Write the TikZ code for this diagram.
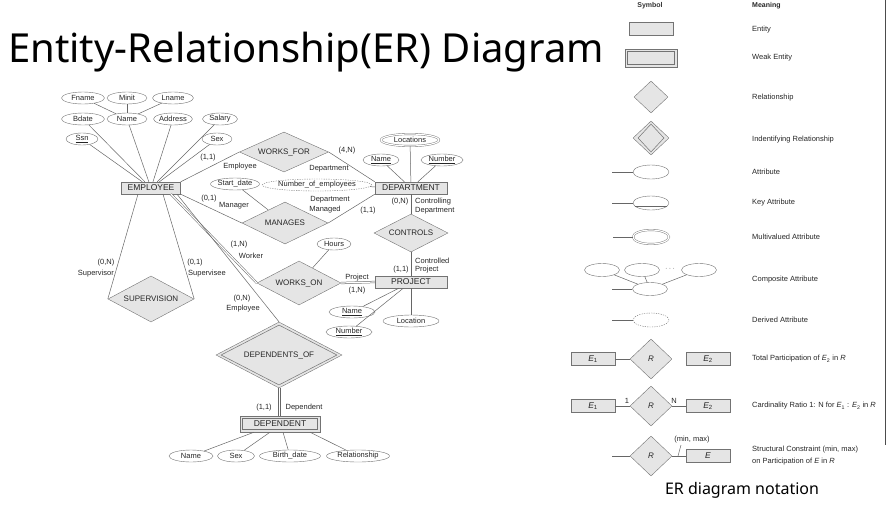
\documentclass[tikz,border=0pt]{standalone}
\usepackage{fontspec}
\setmainfont{Liberation Sans}
\newfontfamily\titlefont{Noto Sans}
\usepackage{tikz}
\usetikzlibrary{shapes.geometric}
\usetikzlibrary{positioning}
\newcommand{\ersym}[2]{{\itshape #1}\textsubscript{#2}}
\tikzstyle{er_line}=[draw=black!60, line width=0.5pt]
\tikzstyle{total}=[er_line, double=white, double distance=1.2pt]
\tikzstyle{er_label}=[inner sep=0pt, text=black!85, font=\fontsize{7.5}{8}\selectfont]
\tikzstyle{entity}=[rectangle, draw=black!55, fill=black!10, inner sep=0pt, minimum height=12, text=black!85, font=\fontsize{8.5}{9}\selectfont]
\tikzstyle{weak_entity}=[entity, inner_box]
\tikzstyle{inner_box}=[
    {path picture={
        \draw[black!55, line width=0.5pt]
        ([shift={(2.5pt,2.5pt)}]path picture bounding box.south west) rectangle
        ([shift={(-2.5pt,-2.5pt)}]path picture bounding box.north east);
      }
    }
]
\tikzstyle{relation}=[diamond, aspect=2, draw=black!55, fill=black!10, inner sep=0pt, text=black!85, font=\fontsize{8}{9}\selectfont]
\tikzstyle{ident_relation}=[relation, inner_diamond]
\tikzstyle{inner_diamond}=[
    {path picture={
        \draw[black!55, line width=0.5pt]
        ([yshift=-3pt]path picture bounding box.north) --
        ([xshift=-5pt]path picture bounding box.east) --
        ([yshift=3pt]path picture bounding box.south) --
        ([xshift=5pt]path picture bounding box.west) -- cycle;
      }
    }
]
\tikzstyle{attr}=[ellipse, draw=black!55, fill=white, inner sep=0pt, minimum height=12, text=black!85, font=\fontsize{7.5}{8}\selectfont]
\tikzstyle{multi_attr}=[attr, double=white, double distance=1.2pt]
\tikzstyle{derived_attr}=[attr, dashed, dash pattern=on 1.2pt off 1.2pt]
\tikzstyle{legend_text}=[anchor=west, inner sep=0pt, text=black!85, font=\fontsize{7.5}{9}\selectfont]
\begin{document}
\begin{tikzpicture}[x=1pt, y=-1pt]
\useasboundingbox (0,0) rectangle (888,506);
\node[anchor=base west, inner sep=0pt, font=\titlefont\fontsize{40}{40}\selectfont] (title) at (8,62) {Entity-Relationship(ER) Diagram};

% employee and its attributes
\node[entity, minimum width=59] (emp) at (151,188) {EMPLOYEE};
\node[attr, minimum width=43] (fname) at (83,98) {Fname};
\node[attr, minimum width=40] (minit) at (127,98) {Minit};
\node[attr, minimum width=41] (lname) at (173,98) {Lname};
\node[attr, minimum width=43] (bdate) at (83,119) {Bdate};
\node[attr, minimum width=40] (ename) at (127,119) {Name};
\node[attr, minimum width=38] (address) at (173,119) {Address};
\node[attr, minimum width=35] (salary) at (220,119) {Salary};
\node[attr, minimum width=32] (ssn) at (82,139) {\underline{Ssn}};
\node[attr, minimum width=30] (esex) at (217,139) {Sex};
\draw[er_line] (fname) -- (ename);
\draw[er_line] (minit) -- (ename);
\draw[er_line] (lname) -- (ename);
\draw[er_line] (emp) -- (bdate);
\draw[er_line] (emp) -- (ename);
\draw[er_line] (emp) -- (address);
\draw[er_line] (emp) -- (salary);
\draw[er_line] (emp) -- (ssn);
\draw[er_line] (emp) -- (esex);

% department
\node[entity, minimum width=72] (dept) at (411,188) {DEPARTMENT};
\node[multi_attr, minimum width=58] (locations) at (410,140) {Locations};
\node[attr, minimum width=36] (dname) at (381,160) {\underline{Name}};
\node[attr, minimum width=42] (dnumber) at (442,160) {\underline{Number}};
\node[derived_attr, minimum width=100] (numemp) at (317,185) {Number\_of\_employees};
\draw[er_line] (dept) -- (locations);
\draw[er_line] (dept) -- (dname);
\draw[er_line] (dept) -- (dnumber);
\draw[er_line] (numemp) -- (dept);

% works_for and manages
\node[relation, minimum width=89, minimum height=40] (works_for) at (284,152) {WORKS\_FOR};
\draw[er_line] (emp.north east) -- (works_for.west);
\draw[er_line] (works_for.east) -- (dept.north west);
\node[er_label] (wf_min) at (208,158) {(1,1)};
\node[er_label] (wf_emp) at (240,167) {Employee};
\node[er_label] (wf_max) at (347,151) {(4,N)};
\node[er_label] (wf_dept) at (329,169) {Department};
\node[relation, minimum width=86, minimum height=42] (manages) at (285,223) {MANAGES};
\node[attr, minimum width=44] (start_date) at (235,184) {Start\_date};
\draw[er_line] (start_date) -- (manages);
\draw[er_line] (emp.south east) -- (manages.west);
\draw[er_line] (manages.east) -- (dept.south west);
\node[er_label] (mg_min) at (209,199) {(0,1)};
\node[er_label] (mg_emp) at (234,206) {Manager};
\node[er_label] (mg_dept) at (330,200) {Department};
\node[er_label] (mg_mgd) at (325,210) {Managed};
\node[er_label] (mg_max) at (368,211) {(1,1)};

% controls and project
\node[relation, minimum width=74, minimum height=38] (controls) at (411,233) {CONTROLS};
\node[entity, minimum width=72] (project) at (411,282) {PROJECT};
\draw[er_line] (dept) -- (controls);
\draw[er_line] (controls) -- (project);
\node[er_label] (ct_min) at (400,202) {(0,N)};
\node[er_label, anchor=west] (ct_dept_a) at (415,202) {Controlling};
\node[er_label, anchor=west] (ct_dept_b) at (415,211) {Department};
\node[er_label, anchor=west] (ct_proj_a) at (415,261) {Controlled};
\node[er_label, anchor=west] (ct_proj_b) at (415,270) {Project};
\node[er_label] (ct_max) at (401,270) {(1,1)};
\node[attr, minimum width=46] (pname) at (352,312) {\underline{Name}};
\node[attr, minimum width=46] (pnumber) at (349,332) {\underline{Number}};
\node[attr, minimum width=56] (plocation) at (411,321) {Location};
\draw[er_line] (project) -- (pname);
\draw[er_line] (project) -- (pnumber);
\draw[er_line] (project) -- (plocation);

% works_on
\node[relation, minimum width=84, minimum height=44] (works_on) at (299,283) {WORKS\_ON};
\node[attr, minimum width=34] (hours) at (334,244) {Hours};
\draw[er_line] (works_on) -- (hours);
\draw[total] ([xshift=20]emp.south) -- (works_on.west);
\draw[total] (works_on.east) -- (project.west);
\node[er_label] (wo_min) at (239,245) {(1,N)};
\node[er_label] (wo_emp) at (251,256) {Worker};
\node[er_label] (wo_proj) at (357,278) {Project};
\node[er_label] (wo_max) at (357,291) {(1,N)};

% supervision
\node[relation, minimum width=86, minimum height=46] (supervision) at (151,299) {SUPERVISION};
\draw[er_line] ([xshift=-13]emp.south) -- (supervision.west);
\draw[er_line] ([xshift=12]emp.south) -- (supervision.east);
\node[er_label] (sv_min) at (106,263) {(0,N)};
\node[er_label, anchor=east] (sv_sup) at (114,274) {Supervisor};
\node[er_label] (sv_max) at (195,263) {(0,1)};
\node[er_label, anchor=west] (sv_see) at (188,274) {Supervisee};

% dependents
\node[ident_relation, minimum width=126, minimum height=66] (dependents_of) at (279,355) {DEPENDENTS\_OF};
\node[weak_entity, minimum width=80, minimum height=16] (dependent) at (280,424) {DEPENDENT};
\draw[er_line] ([xshift=26]emp.south) -- (dependents_of.north);
\draw[er_line] ([xshift=-1.2]dependents_of.south) -- ([xshift=-2.2]dependent.north);
\draw[er_line] ([xshift=1.2]dependents_of.south) -- ([xshift=0.2]dependent.north);
\node[er_label] (dp_min_a) at (242,299) {(0,N)};
\node[er_label] (dp_emp) at (243,309) {Employee};
\node[er_label] (dp_min_b) at (264,408) {(1,1)};
\node[er_label] (dp_dep) at (304,408) {Dependent};
\node[attr, minimum width=44] (dpname) at (191,456) {Name};
\node[attr, minimum width=37] (dpsex) at (236,456) {Sex};
\node[attr, minimum width=61] (birth_date) at (290,456) {Birth\_date};
\node[attr, minimum width=63] (relationship) at (358,456) {Relationship};
\draw[er_line] ([xshift=-26]dependent.south) -- (dpname);
\draw[er_line] ([xshift=-10]dependent.south) -- (dpsex);
\draw[er_line] ([xshift=3]dependent.south) -- (birth_date);
\draw[er_line] ([xshift=30]dependent.south) -- (relationship);

% notation
\draw[black!70, line width=0.6pt] (885,0) -- (885,445);
\node[inner sep=0pt, font=\bfseries\fontsize{7}{8}\selectfont, text=black!80] (symbol_head) at (650,6) {Symbol};
\node[legend_text, font=\bfseries\fontsize{7}{8}\selectfont] (meaning_head) at (752,6) {Meaning};
\node[entity, minimum width=44, minimum height=13] (entity_sym) at (651,29) {};
\node[legend_text] (entity_txt) at (752,30) {Entity};
\node[weak_entity, minimum width=52, minimum height=18] (weak_sym) at (651,58) {};
\node[legend_text] (weak_txt) at (752,58) {Weak Entity};
\node[relation, minimum width=34, minimum height=32] (rel_sym) at (651,97) {};
\node[legend_text] (rel_txt) at (752,98) {Relationship};
\node[ident_relation, minimum width=36, minimum height=34] (ident_sym) at (651,138) {};
\node[legend_text] (ident_txt) at (752,140) {Indentifying Relationship};
\node[attr, minimum width=36, minimum height=14] (attr_sym) at (651,172) {};
\coordinate (attr_end) at (612,172);
\draw[er_line] (attr_end) -- (attr_sym);
\node[legend_text] (attr_txt) at (752,172) {Attribute};
\node[attr, minimum width=36, minimum height=14] (key_sym) at (651,203) {};
\coordinate (key_end) at (612,203);
\draw[er_line] (key_end) -- (key_sym);
\draw[er_line] ([shift={(-16,3)}]key_sym.center) -- ([shift={(16,3)}]key_sym.center);
\node[legend_text] (key_txt) at (752,203) {Key Attribute};
\node[multi_attr, minimum width=36, minimum height=14] (multi_sym) at (651,237) {};
\coordinate (multi_end) at (613,237);
\draw[er_line] (multi_end) -- (multi_sym);
\node[legend_text] (multi_txt) at (752,237) {Multivalued Attribute};
\node[attr, minimum width=35, minimum height=13] (comp_a) at (602,270) {};
\node[attr, minimum width=35, minimum height=13] (comp_b) at (642,270) {};
\node[attr, minimum width=35, minimum height=13] (comp_c) at (699,270) {};
\node[er_label] (comp_dots) at (670,269) {$\cdots$};
\node[attr, minimum width=35, minimum height=13] (comp_sym) at (650,289) {};
\coordinate (comp_end) at (612,289);
\draw[er_line] (comp_end) -- (comp_sym);
\draw[er_line] (comp_a) -- (comp_sym);
\draw[er_line] (comp_b) -- (comp_sym);
\draw[er_line] (comp_c) -- (comp_sym);
\node[legend_text] (comp_txt) at (752,280) {Composite Attribute};
\node[derived_attr, minimum width=36, minimum height=14] (derived_sym) at (651,320) {};
\coordinate (derived_end) at (612,320);
\draw[er_line] (derived_end) -- (derived_sym);
\node[legend_text] (derived_txt) at (752,320) {Derived Attribute};

% participation and cardinality
\node[entity, minimum width=44, minimum height=13] (tp_e1) at (593,359) {\ersym{E}{1}};
\node[relation, minimum width=42, minimum height=40] (tp_r) at (651,359) {\textit{R}};
\node[entity, minimum width=44, minimum height=13] (tp_e2) at (708,359) {\ersym{E}{2}};
\draw[er_line] (tp_e1) -- (tp_r);
\draw[total] (tp_r) -- (tp_e2);
\node[legend_text] (tp_txt) at (752,359) {Total Participation of \ersym{E}{2} in \textit{R}};
\node[entity, minimum width=44, minimum height=13] (cr_e1) at (593,406) {\ersym{E}{1}};
\node[relation, minimum width=42, minimum height=40] (cr_r) at (651,406) {\textit{R}};
\node[entity, minimum width=44, minimum height=13] (cr_e2) at (708,406) {\ersym{E}{2}};
\draw[er_line] (cr_e1) -- (cr_r);
\draw[er_line] (cr_r) -- (cr_e2);
\node[er_label] (cr_one) at (627,401) {1};
\node[er_label] (cr_n) at (674,401) {N};
\node[legend_text] (cr_txt) at (752,406) {Cardinality Ratio 1: N for \ersym{E}{1} : \ersym{E}{2} in \textit{R}};
\coordinate (sc_end) at (612,456);
\node[relation, minimum width=42, minimum height=40] (sc_r) at (651,456) {\textit{R}};
\node[entity, minimum width=44, minimum height=13] (sc_e) at (708,456) {\textit{E}};
\draw[er_line] (sc_end) -- (sc_r);
\draw[er_line] (sc_r) -- (sc_e);
\node[er_label] (minmax) at (692,440) {(min, max)};
\coordinate (tick_top) at (681,445);
\coordinate (tick_bot) at (678,456);
\draw[er_line] (tick_top) -- (tick_bot);
\node[legend_text] (sc_txt_a) at (752,450) {Structural Constraint (min, max)};
\node[legend_text] (sc_txt_b) at (752,462) {on Participation of \textit{E} in \textit{R}};
\node[inner sep=0pt, font=\titlefont\fontsize{16}{16}\selectfont] (notation_title) at (742,490) {ER diagram notation};
\end{tikzpicture}
\end{document}
